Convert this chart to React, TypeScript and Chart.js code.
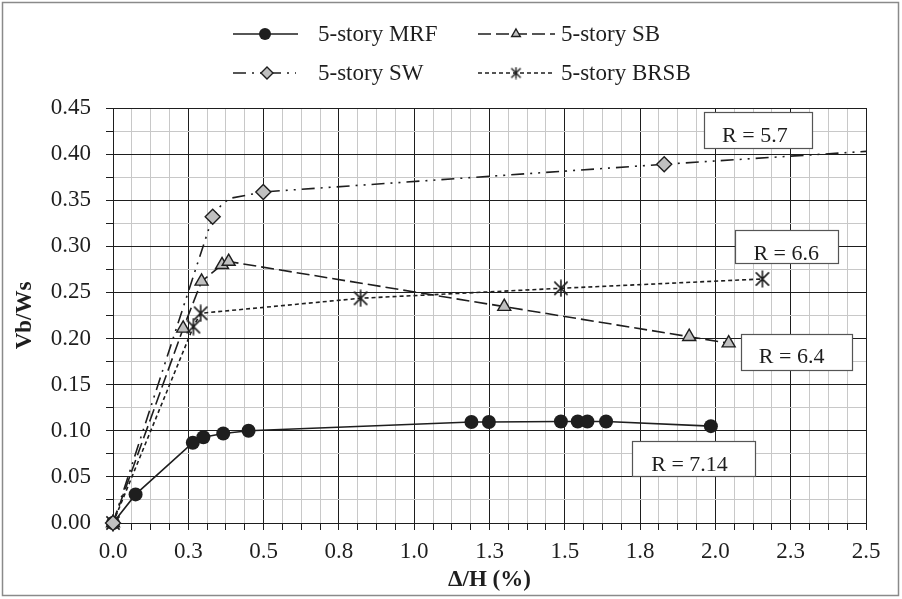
import React, { useEffect, useRef } from 'react';
import { Chart, registerables } from 'chart.js';

Chart.register(...registerables);

const FONT = '"Liberation Serif", "Times New Roman", serif';
const INK = '#1e1e1e';
const MARKER_FILL = '#c0c0c0';

// ---- data ----
const seriesNames = ['5-story MRF', '5-story SB', '5-story SW', '5-story BRSB'];

const mrfX = [0, 0.075, 0.265, 0.3, 0.366, 0.45, 1.19, 1.248, 1.487, 1.543, 1.575, 1.637, 1.985];
const mrfY = [0, 0.031, 0.087, 0.093, 0.097, 0.1, 0.1095, 0.1095, 0.11, 0.11, 0.11, 0.11, 0.105];

const sbX = [0, 0.233, 0.294, 0.362, 0.384, 1.299, 1.913, 2.044];
const sbY = [0, 0.211, 0.262, 0.28, 0.2835, 0.2346, 0.202, 0.195];

const swX = [0, 0.331, 0.36, 0.388, 0.499, 1.83, 2.5];
const swY = [0, 0.332, 0.345, 0.352, 0.359, 0.389, 0.403];
const swMarked = [true, true, false, false, true, true, false];

const brX = [0, 0.267, 0.291, 0.822, 1.487, 2.156];
const brY = [0, 0.213, 0.2274, 0.2437, 0.2545, 0.2646];

const xMin = 0, xMax = 2.5, xMajor = 0.25, xMinor = 0.0625;
const yMin = 0, yMax = 0.45, yMajor = 0.05, yMinor = 0.025;

const xTitle = 'Δ/H (%)';
const yTitle = 'Vb/Ws';

const annLabels = ['R = 5.7', 'R = 6.6', 'R = 6.4', 'R = 7.14'];
const annX = [2.131, 2.235, 2.253, 1.914];
const annY = [0.4208, 0.2928, 0.1806, 0.064];

// box offsets (px) around each annotation text centre: left, right, top, bottom
const annBoxes = [
  [-51, 57, -23, 13],
  [-51, 52, -23, 10],
  [-51, 60, -22, 14],
  [-57, 66, -23, 12],
];

const toPts = (xs: number[], ys: number[]) => xs.map((x, i) => ({ x, y: ys[i] }));
const isMult = (v: number, step: number) => Math.abs(v / step - Math.round(v / step)) < 1e-6;

function makeAsterisk(size: number, lw: number) {
  const c = document.createElement('canvas');
  c.width = size;
  c.height = size;
  const g = c.getContext('2d')!;
  g.strokeStyle = INK;
  g.lineWidth = lw;
  g.lineCap = 'butt';
  const m = size / 2;
  const r = size / 2 - 0.5;
  const d = r * 0.78;
  g.beginPath();
  g.moveTo(m, m - r);
  g.lineTo(m, m + r);
  g.moveTo(m - d, m - d);
  g.lineTo(m + d, m + d);
  g.moveTo(m + d, m - d);
  g.lineTo(m - d, m + d);
  g.stroke();
  return c;
}

const dashes = {
  mrf: [] as number[],
  sb: [13, 5],
  sw: [13, 6, 2, 6, 2, 6],
  br: [4, 3],
};

export default function App() {
  const ref = useRef<HTMLCanvasElement | null>(null);

  useEffect(() => {
    document.body.style.margin = '0';
    const canvas = ref.current!;
    const star = makeAsterisk(18, 1.6);
    const starSmall = makeAsterisk(13, 1.4);

    const overlay = {
      id: 'overlay',
      afterDatasetsDraw(chart: any) {
        const { ctx, scales } = chart;
        const xs = scales.x, ys = scales.y;
        ctx.save();
        ctx.font = `22px ${FONT}`;
        ctx.textAlign = 'center';
        ctx.textBaseline = 'middle';
        annLabels.forEach((lab, i) => {
          const cx = xs.getPixelForValue(annX[i]);
          const cy = ys.getPixelForValue(annY[i]);
          const b = annBoxes[i];
          const l = Math.round(cx + b[0]) + 0.5;
          const t = Math.round(cy + b[2]) + 0.5;
          const w = Math.round(b[1] - b[0]);
          const h = Math.round(b[3] - b[2]);
          ctx.fillStyle = '#ffffff';
          ctx.fillRect(l, t, w, h);
          ctx.strokeStyle = '#555555';
          ctx.lineWidth = 1.2;
          ctx.strokeRect(l, t, w, h);
          ctx.fillStyle = INK;
          ctx.fillText(lab, cx, cy + 1);
        });
        ctx.restore();
      },
      afterDraw(chart: any) {
        const { ctx } = chart;
        ctx.save();
        // outer frame
        ctx.strokeStyle = '#8a8a8a';
        ctx.lineWidth = 1.5;
        ctx.strokeRect(2.5, 2.5, 896, 593);

        // legend
        const rows = [
          { x0: 233, x1: 298, mx: 265, tx: 318, y: 34, dash: dashes.mrf, lw: 1.6, kind: 'circle', name: seriesNames[0] },
          { x0: 478, x1: 555, mx: 516, tx: 561, y: 34, dash: dashes.sb, lw: 1.6, kind: 'triangle', name: seriesNames[1] },
          { x0: 233, x1: 296, mx: 267, tx: 318, y: 73, dash: dashes.sw, lw: 1.6, kind: 'diamond', name: seriesNames[2] },
          { x0: 478, x1: 555, mx: 516, tx: 561, y: 73, dash: dashes.br, lw: 1.6, kind: 'star', name: seriesNames[3] },
        ];
        rows.forEach((r) => {
          ctx.save();
          ctx.strokeStyle = INK;
          ctx.lineWidth = r.lw;
          ctx.setLineDash(r.dash);
          ctx.beginPath();
          ctx.moveTo(r.x0, r.y);
          ctx.lineTo(r.x1, r.y);
          ctx.stroke();
          ctx.setLineDash([]);
          ctx.lineWidth = 1.4;
          ctx.strokeStyle = INK;
          if (r.kind === 'circle') {
            ctx.fillStyle = INK;
            ctx.beginPath();
            ctx.arc(r.mx, r.y, 6, 0, Math.PI * 2);
            ctx.fill();
          } else if (r.kind === 'triangle') {
            ctx.fillStyle = MARKER_FILL;
            const rad = 5;
            ctx.beginPath();
            ctx.moveTo(r.mx, r.y - rad);
            ctx.lineTo(r.mx + rad * 0.866, r.y + rad * 0.5);
            ctx.lineTo(r.mx - rad * 0.866, r.y + rad * 0.5);
            ctx.closePath();
            ctx.fill();
            ctx.stroke();
          } else if (r.kind === 'diamond') {
            ctx.fillStyle = MARKER_FILL;
            const rad = 6;
            ctx.beginPath();
            ctx.moveTo(r.mx, r.y - rad);
            ctx.lineTo(r.mx + rad, r.y);
            ctx.lineTo(r.mx, r.y + rad);
            ctx.lineTo(r.mx - rad, r.y);
            ctx.closePath();
            ctx.fill();
            ctx.stroke();
          } else {
            ctx.drawImage(starSmall, r.mx - starSmall.width / 2, r.y - starSmall.height / 2);
          }
          ctx.fillStyle = INK;
          ctx.font = `23px ${FONT}`;
          ctx.textAlign = 'left';
          ctx.textBaseline = 'middle';
          ctx.fillText(r.name, r.tx, r.y + 1);
          ctx.restore();
        });
        ctx.restore();
      },
    };

    const common = {
      showLine: true,
      borderColor: INK,
      pointBorderColor: INK,
      pointBorderWidth: 1.4,
      borderWidth: 1.6,
      tension: 0,
      clip: false,
    };

    const chart = new Chart(canvas, {
      type: 'scatter',
      data: {
        datasets: [
          {
            ...common,
            label: seriesNames[0],
            data: toPts(mrfX, mrfY),
            borderDash: dashes.mrf,
            pointStyle: 'circle',
            pointRadius: 7,
            pointBackgroundColor: INK,
            pointBorderWidth: 0,
            order: 3,
          },
          {
            ...common,
            label: seriesNames[1],
            data: toPts(sbX, sbY),
            borderDash: dashes.sb,
            pointStyle: 'triangle',
            pointRadius: 7.5,
            pointBackgroundColor: MARKER_FILL,
            order: 2,
          },
          {
            ...common,
            label: seriesNames[3],
            data: toPts(brX, brY),
            borderDash: dashes.br,
            pointStyle: star as any,
            pointRadius: 8,
            order: 1,
          },
          {
            ...common,
            label: seriesNames[2],
            data: toPts(swX, swY),
            borderDash: dashes.sw,
            pointStyle: 'rectRot',
            pointRadius: swMarked.map((m) => (m ? 7.5 : 0)),
            pointBackgroundColor: MARKER_FILL,
            order: 0,
          },
        ],
      } as any,
      options: {
        responsive: false,
        animation: false,
        devicePixelRatio: 1,
        layout: { padding: { top: 108, right: 36, left: 0, bottom: 0 } },
        plugins: {
          legend: { display: false },
          tooltip: { enabled: false },
        },
        scales: {
          x: {
            type: 'linear',
            min: xMin,
            max: xMax,
            afterFit: (s: any) => {
              s.height = 76;
            },
            ticks: {
              stepSize: xMinor,
              autoSkip: false,
              maxRotation: 0,
              padding: 8,
              color: INK,
              font: { family: FONT, size: 23 },
              callback: (v: any) => (isMult(Number(v), xMajor) ? Number(v).toFixed(1) : ''),
            },
            grid: {
              color: (c: any) => (isMult(c.tick.value, xMajor) ? INK : '#c8c8c8'),
              tickColor: INK,
              tickLength: 7,
              lineWidth: 1,
            },
            border: { display: true, color: INK, width: 1 },
            title: {
              display: true,
              text: xTitle,
              color: INK,
              font: { family: FONT, size: 23, weight: 'bold' },
              padding: { top: 0, bottom: 5 },
            },
          },
          y: {
            type: 'linear',
            min: yMin,
            max: yMax,
            afterFit: (s: any) => {
              s.width = 113;
            },
            ticks: {
              stepSize: yMinor,
              autoSkip: false,
              padding: 15,
              color: INK,
              font: { family: FONT, size: 23 },
              callback: (v: any) => (isMult(Number(v), yMajor) ? Number(v).toFixed(2) : ''),
            },
            grid: {
              color: (c: any) => (isMult(c.tick.value, yMajor) ? INK : '#c8c8c8'),
              tickColor: INK,
              tickLength: 7,
              lineWidth: 1,
            },
            border: { display: true, color: INK, width: 1 },
            title: {
              display: true,
              text: yTitle,
              color: INK,
              font: { family: FONT, size: 23, weight: 'bold' },
              padding: { top: 11, bottom: 0 },
            },
          },
        },
      } as any,
      plugins: [overlay],
    });

    return () => chart.destroy();
  }, []);

  return (
    <div style={{ position: 'absolute', left: 0, top: 0, width: 902, height: 599, background: '#fff' }}>
      <canvas ref={ref} width={902} height={599} style={{ display: 'block', width: 902, height: 599 }} />
    </div>
  );
}
